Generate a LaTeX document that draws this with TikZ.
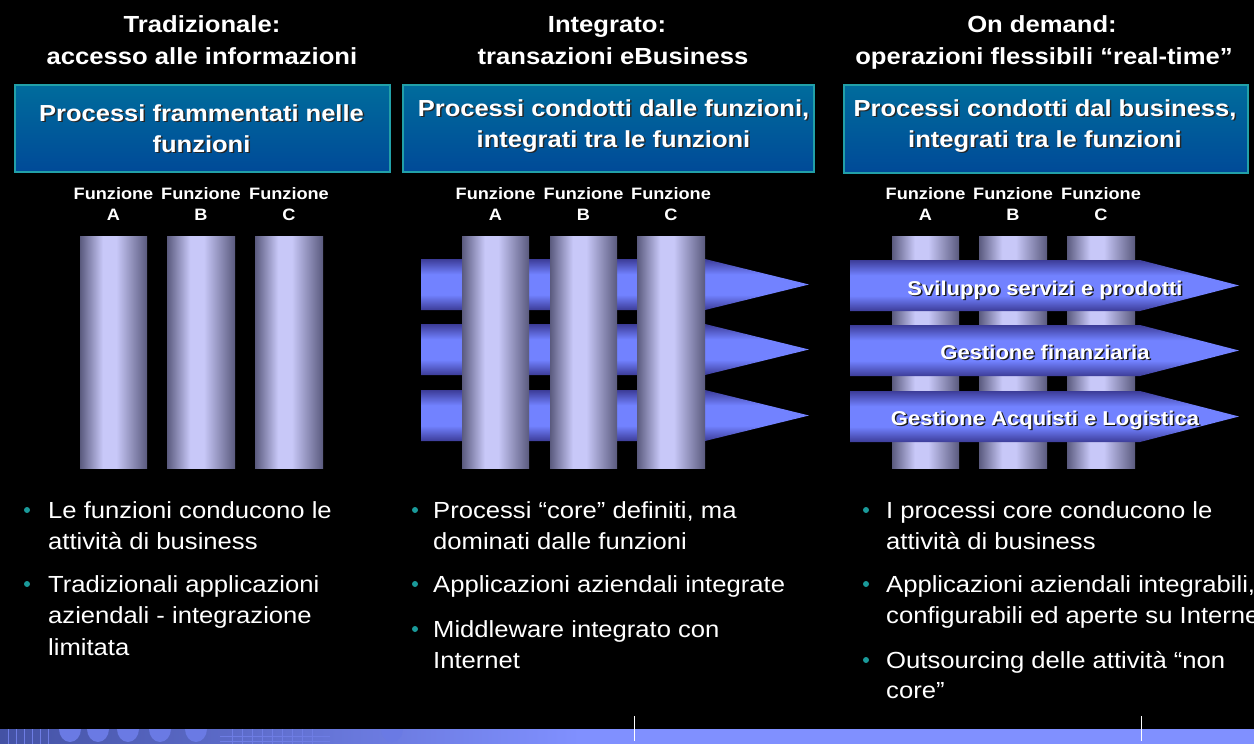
\documentclass[tikz,border=0pt]{standalone}
\usepackage{fontspec}
\setmainfont{Liberation Sans}[FakeStretch=1.1]
\definecolor{boxtop}{HTML}{006C9C}
\definecolor{boxbot}{HTML}{004A98}
\definecolor{boxedge}{HTML}{22A0A8}
\definecolor{pdark}{HTML}{5A5A7E}
\definecolor{plight}{HTML}{C8C8F8}
\definecolor{adark}{HTML}{3C3C98}
\definecolor{alight}{HTML}{7282FF}
\definecolor{bulletc}{HTML}{1A9A9A}
\definecolor{stripc}{HTML}{8090FF}
\definecolor{stripd}{HTML}{4452A4}
\definecolor{blob}{HTML}{6A7AE4}
\pgfdeclarehorizontalshading{pillar}{100bp}{color(0bp)=(pdark); color(25bp)=(pdark); color(42bp)=(plight); color(52bp)=(plight); color(75bp)=(pdark); color(100bp)=(pdark)}
\pgfdeclareverticalshading{arrowsh}{100bp}{color(0bp)=(adark); color(25bp)=(adark); color(40bp)=(alight); color(60bp)=(alight); color(75bp)=(adark); color(100bp)=(adark)}
\tikzset{
 hdr/.style={font=\bfseries\fontsize{23.3}{32}\selectfont, text=white, anchor=base, inner sep=0},
 tbox/.style={draw=boxedge, line width=1.5pt, top color=boxtop, bottom color=boxbot, inner sep=0, anchor=north west},
 ttl/.style={font=\bfseries\fontsize{23.2}{31}\selectfont, text=white, anchor=base, inner sep=0},
 ttlsh/.style={ttl, text=black!85},
 fn/.style={font=\bfseries\fontsize{16.5}{22}\selectfont, text=white, anchor=base, inner sep=0},
 pillar/.style={shading=pillar},
 proc/.style={shading=arrowsh},
 atxt/.style={font=\bfseries\fontsize{20}{24}\selectfont, text=white, anchor=base, inner sep=0},
 atxtsh/.style={atxt, text=black!90},
 btxt/.style={font=\fontsize{23.3}{31}\selectfont, text=white, anchor=base west, inner sep=0},
 bdot/.style={circle, fill=bulletc, inner sep=0, minimum size=6pt},
 vline/.style={draw=white, line width=1pt},
}
\begin{document}
\begin{tikzpicture}[x=1pt,y=-1pt]
\useasboundingbox (0,0) rectangle (1254,744);
\fill[black] (0,0) rectangle (1254,744);

% headers
\node[hdr] (h1a) at (202,32) {Tradizionale:};
\node[hdr] (h1b) at (202,64) {accesso alle informazioni};
\node[hdr] (h2a) at (607,32) {Integrato:};
\node[hdr] (h2b) at (613,64) {transazioni eBusiness};
\node[hdr] (h3a) at (1042,32) {On demand:};
\node[hdr] (h3b) at (1044,64) {operazioni flessibili “real-time”};

% title boxes
\node[tbox, minimum width=375pt, minimum height=87pt] (b1) at (14,84) {};
\node[tbox, minimum width=411pt, minimum height=87pt] (b2) at (402,84) {};
\node[tbox, minimum width=404pt, minimum height=88pt] (b3) at (843,84) {};
\node[ttlsh] (t1as) at (203,122.5) {Processi frammentati nelle};
\node[ttl]   (t1a)  at (201.5,121) {Processi frammentati nelle};
\node[ttlsh] (t1bs) at (203,153.5) {funzioni};
\node[ttl]   (t1b)  at (201.5,152) {funzioni};
\node[ttlsh] (t2as) at (615,117.5) {Processi condotti dalle funzioni,};
\node[ttl]   (t2a)  at (613.5,116) {Processi condotti dalle funzioni,};
\node[ttlsh] (t2bs) at (615,148.5) {integrati tra le funzioni};
\node[ttl]   (t2b)  at (613.5,147) {integrati tra le funzioni};
\node[ttlsh] (t3as) at (1046.5,117.5) {Processi condotti dal business,};
\node[ttl]   (t3a)  at (1045,116) {Processi condotti dal business,};
\node[ttlsh] (t3bs) at (1046.5,148.5) {integrati tra le funzioni};
\node[ttl]   (t3b)  at (1045,147) {integrati tra le funzioni};

% funzione labels
\foreach \n/\x/\l in {1a/113.5/A,1b/201/B,1c/289/C,2a/495.5/A,2b/583.5/B,2c/671/C,3a/925.5/A,3b/1013/B,3c/1101/C}{
  \node[fn] (f\n) at (\x,199) {Funzione};
  \node[fn] (g\n) at (\x,220) {\l};
}

% column 1 pillars
\path[pillar] (80,236) rectangle (147,468);
\path[pillar] (167,236) rectangle (235,468);
\path[pillar] (255,236) rectangle (323,468);

% column 2 arrows then pillars
\foreach \t in {259,324,390}{
  \path[proc] (421,\t) -- (705,\t) -- (809,\t+25.5) -- (705,\t+51) -- (421,\t+51) -- cycle;
}
\path[pillar] (462,236) rectangle (529,468);
\path[pillar] (550,236) rectangle (617,468);
\path[pillar] (637,236) rectangle (705,468);

% column 3 pillars then arrows
\path[pillar] (892,236) rectangle (959,468);
\path[pillar] (979,236) rectangle (1047,468);
\path[pillar] (1067,236) rectangle (1135,468);
\foreach \t in {260,325,391}{
  \path[proc] (850,\t) -- (1140,\t) -- (1239,\t+25.5) -- (1140,\t+51) -- (850,\t+51) -- cycle;
}
\node[atxtsh] (p1s) at (1046.5,296.5) {Sviluppo servizi e prodotti};
\node[atxt]   (p1)  at (1045,295) {Sviluppo servizi e prodotti};
\node[atxtsh] (p2s) at (1046.5,360.5) {Gestione finanziaria};
\node[atxt]   (p2)  at (1045,359) {Gestione finanziaria};
\node[atxtsh] (p3s) at (1046.5,426.5) {Gestione Acquisti e Logistica};
\node[atxt]   (p3)  at (1045,425) {Gestione Acquisti e Logistica};

% bullets column 1
\node[bdot] (d1a) at (27,510) {};
\node[btxt] (l1a) at (48,518) {Le funzioni conducono le};
\node[btxt] (l1b) at (48,549) {attività di business};
\node[bdot] (d1b) at (27,584) {};
\node[btxt] (l1c) at (48,592) {Tradizionali applicazioni};
\node[btxt] (l1d) at (48,623) {aziendali - integrazione};
\node[btxt] (l1e) at (48,655) {limitata};

% bullets column 2
\node[bdot] (d2a) at (415,510) {};
\node[btxt] (l2a) at (433,518) {Processi “core” definiti, ma};
\node[btxt] (l2b) at (433,549) {dominati dalle funzioni};
\node[bdot] (d2b) at (415,584) {};
\node[btxt] (l2c) at (433,592) {Applicazioni aziendali integrate};
\node[bdot] (d2c) at (415,629) {};
\node[btxt] (l2d) at (433,637) {Middleware integrato con};
\node[btxt] (l2e) at (433,668) {Internet};

% bullets column 3
\begin{scope}
\clip (0,0) rectangle (1254,744);
\node[bdot] (d3a) at (866,510) {};
\node[btxt] (l3a) at (886,518) {I processi core conducono le};
\node[btxt] (l3b) at (886,549) {attività di business};
\node[bdot] (d3b) at (866,584) {};
\node[btxt] (l3c) at (886,592) {Applicazioni aziendali integrabili,};
\node[btxt] (l3d) at (886,623) {configurabili ed aperte su Internet};
\node[bdot] (d3c) at (866,660) {};
\node[btxt] (l3e) at (886,668) {Outsourcing delle attività “non};
\node[btxt] (l3f) at (886,698) {core”};
\end{scope}

% bottom strip
\fill[stripc] (0,729) rectangle (1254,744);
\shade[left color=stripd, right color=stripc] (0,729) rectangle (580,744);
\begin{scope}
\clip (0,729) rectangle (560,744);
\foreach \x in {70,98,128,160,196,392}{
  \fill[blob] (\x,729) ellipse (11 and 13);
}
\foreach \x in {8,16,24,32,40,48,232,242,252,262,272,282,292,302,312}{
  \draw[stripc!70!stripd, line width=0.6pt] (\x,729) -- (\x,744);
}
\draw[stripc!70!stripd, line width=0.6pt] (220,736) -- (330,736) (220,741) -- (330,741);
\end{scope}
\coordinate (v1t) at (634,716);
\coordinate (v1b) at (634,741);
\coordinate (v2t) at (1141,716);
\coordinate (v2b) at (1141,741);
\draw[vline] (v1t) -- (v1b);
\draw[vline] (v2t) -- (v2b);
\end{tikzpicture}
\end{document}
